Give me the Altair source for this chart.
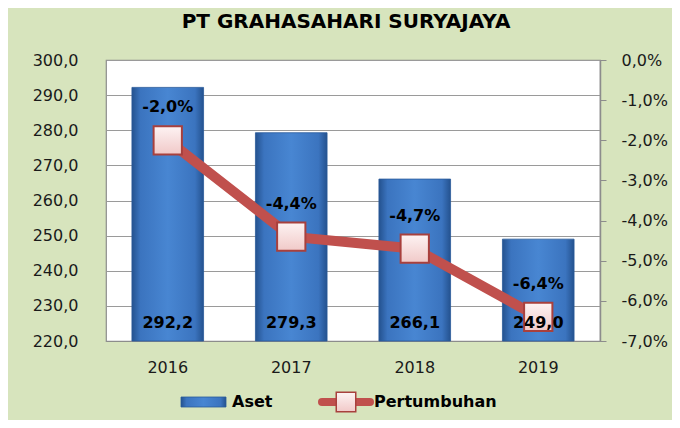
import altair as alt
import pandas as pd

years = ["2016", "2017", "2018", "2019"]
aset = [292.2, 279.3, 266.1, 249.0]
growth = [-2.0, -4.4, -4.7, -6.4]
series_names = ["Aset", "Pertumbuhan"]
title_text = "PT GRAHASAHARI SURYAJAYA"

df = pd.DataFrame({"Tahun": years, "Aset": aset, "Pertumbuhan": growth})

FONT = "DejaVu Sans"
BLUE_GRAD = alt.LinearGradient(
    gradient="linear", x1=0, x2=1, y1=0, y2=0,
    stops=[alt.GradientStop(offset=0, color="#24528f"),
           alt.GradientStop(offset=0.12, color="#3b74bf"),
           alt.GradientStop(offset=0.5, color="#4886d2"),
           alt.GradientStop(offset=0.88, color="#3b74bf"),
           alt.GradientStop(offset=1, color="#24528f")])
PINK_GRAD = alt.LinearGradient(
    gradient="linear", x1=0, x2=0, y1=0, y2=1,
    stops=[alt.GradientStop(offset=0, color="#fdf3f3"),
           alt.GradientStop(offset=1, color="#f1c9c8")])
RED = "#c0504d"

MINUS = "\u2212"

x_scale = alt.Scale(paddingInner=0.42, paddingOuter=0.21)
x_axis = alt.Axis(title=None, labelAngle=0, ticks=False, labelPadding=18,
                  labelFont=FONT, labelFontSize=16, labelColor="#1a1a1a",
                  domainColor="#8c8c8c", labelOverlap=False)
xenc = alt.X("Tahun:N", sort=years, scale=x_scale, axis=x_axis)

yl_scale = alt.Scale(domain=[220, 300], zero=False, nice=False)
yl_axis = alt.Axis(title=None, values=[220, 230, 240, 250, 260, 270, 280, 290, 300],
                   labelExpr="replace(format(datum.value, '.1f'), '.', ',')",
                   ticks=False, domain=False, labelPadding=28, grid=True,
                   gridColor="#9a9a9a", gridWidth=1.2, labelOverlap=False,
                   labelFont=FONT, labelFontSize=16, labelColor="#1a1a1a")

yr_scale = alt.Scale(domain=[-7, 0], nice=False, zero=False)
yr_axis = alt.Axis(title=None, orient="right", values=[-7, -6, -5, -4, -3, -2, -1, 0],
                   labelExpr="replace(replace(format(datum.value, '.1f'), '.', ','), '" + MINUS + "', '-') + '%'",
                   ticks=True, tickSize=6, tickColor="#8c8c8c", domainColor="#8c8c8c",
                   domainWidth=1.5, labelPadding=15, grid=False, labelOverlap=False,
                   labelFont=FONT, labelFontSize=16, labelColor="#1a1a1a")

base = alt.Chart(df)

bars = base.mark_bar(color=BLUE_GRAD, stroke="#2a5a99", strokeWidth=0.8).encode(
    x=xenc,
    y=alt.Y("Aset:Q", scale=yl_scale, axis=yl_axis),
    y2=alt.datum(220),
)
left = alt.layer(bars)

yr_enc = alt.Y("Pertumbuhan:Q", scale=yr_scale, axis=yr_axis)
line = base.mark_line(color=RED, strokeWidth=10).encode(x=xenc, y=yr_enc)
pts = base.mark_point(shape="square", size=800, filled=True, fill=PINK_GRAD,
                      stroke="#a8403d", strokeWidth=2, opacity=1).encode(x=xenc, y=yr_enc)
pct_text = base.mark_text(font=FONT, fontSize=16, fontWeight="bold", color="#000000",
                          dy=-33).encode(
    x=xenc, y=yr_enc, text=alt.Text("plabel:N"),
).transform_calculate(
    plabel="replace(replace(format(datum.Pertumbuhan, '.1f'), '.', ','), '" + MINUS + "', '-') + '%'")

right = alt.layer(line, pts, pct_text)

# bar value labels drawn on top of everything, at the bottom of the bars
bar_text = base.mark_text(font=FONT, fontSize=16, fontWeight="bold", color="#000000",
                          baseline="bottom", dy=-10).encode(
    x=xenc,
    y=alt.value(281),
    text=alt.Text("label:N"),
).transform_calculate(label="replace(format(datum.Aset, '.1f'), '.', ',')")

# legend and title (manual)
leg_df = pd.DataFrame({"name": series_names})
leg_aset = alt.Chart(leg_df).transform_filter(alt.datum.name == series_names[0])
leg_pert = alt.Chart(leg_df).transform_filter(alt.datum.name == series_names[1])

leg_rect = leg_aset.mark_rect(color=BLUE_GRAD, stroke="#2a5a99", strokeWidth=0.8).encode(
    x=alt.value(75), x2=alt.value(120), y=alt.value(337), y2=alt.value(347))
leg_rect_t = leg_aset.mark_text(font=FONT, fontSize=16, fontWeight="bold", align="left",
                                baseline="middle", color="#000000").encode(
    x=alt.value(126), y=alt.value(342), text="name:N")
leg_line = leg_pert.mark_rule(color=RED, strokeWidth=8, strokeCap="round").encode(
    x=alt.value(216), x2=alt.value(264), y=alt.value(342))
leg_pt = leg_pert.mark_point(shape="square", size=380, filled=True, fill=PINK_GRAD,
                             stroke="#a8403d", strokeWidth=1.5, opacity=1).encode(
    x=alt.value(240), y=alt.value(342))
leg_pt_t = leg_pert.mark_text(font=FONT, fontSize=16, fontWeight="bold", align="left",
                              baseline="middle", color="#000000").encode(
    x=alt.value(268), y=alt.value(342), text="name:N")

title_df = pd.DataFrame({"t": [title_text]})
title_mark = alt.Chart(title_df).mark_text(font=FONT, fontSize=20, fontWeight="bold",
                                           align="center", baseline="middle",
                                           color="#000000").encode(
    x=alt.value(240), y=alt.value(-38), text="t:N")

legend = alt.layer(bar_text, leg_rect, leg_rect_t, leg_line, leg_pt, leg_pt_t, title_mark)

chart = alt.layer(left, right, legend).resolve_scale(y="independent").properties(
    width=494, height=281,
    autosize=alt.AutoSizeParams(type="none"),
    padding={"left": 98, "top": 52, "right": 72, "bottom": 79},
    background="#d7e4bd",
).configure_view(stroke="#8c8c8c", fill="#ffffff", strokeWidth=1.2)

chart.save("out.html", embed_options={"renderer": "svg", "actions": False})
